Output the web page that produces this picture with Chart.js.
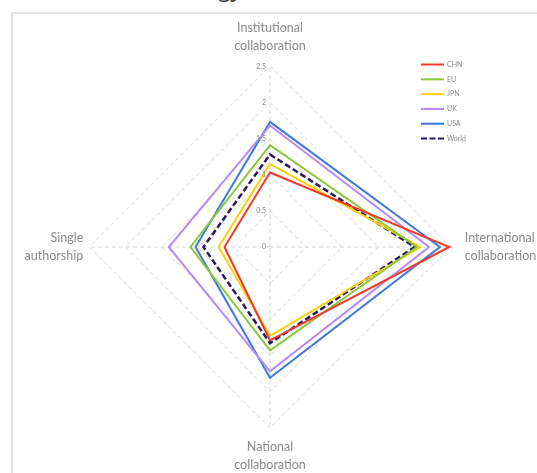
<!DOCTYPE html>
<html>
<head>
<meta charset="utf-8">
<script src="https://cdn.jsdelivr.net/npm/chart.js@4/dist/chart.umd.min.js"></script>
<style>
  html, body { margin: 0; padding: 0; background: #fff; }
  body { width: 537px; height: 473px; overflow: hidden; position: relative; }
  #frame { position: absolute; left: 11px; top: 12px; right: -4px; bottom: -4px;
           border-left: 2px solid #e6e6e6; border-top: 2px solid #e6e6e6; }
  #title { position: absolute; left: 0; width: 245px; top: -27px; text-align: right;
           font: italic 26px/26px "Open Sans", sans-serif; color: #444; white-space: nowrap; }
  #chart { position: absolute; left: -80px; top: 0; }
</style>
</head>
<body>
<div id="title">Energy</div>
<div id="frame"></div>
<canvas id="chart" width="700" height="475"></canvas>
<script>
// Axes of the collaboration profile (clockwise from the top)
const categories = [
  ['Institutional', 'collaboration'],
  ['International', 'collaboration'],
  ['National', 'collaboration'],
  ['Single', 'authorship']
];

// Series values per axis
const CHN   = [1.03, 2.48, 1.29, 0.63];
const EU    = [1.41, 2.03, 1.43, 1.10];
const JPN   = [1.15, 2.08, 1.23, 0.71];
const UK    = [1.68, 2.20, 1.72, 1.40];
const USA   = [1.73, 2.35, 1.81, 1.03];
const World = [1.28, 2.00, 1.33, 0.92];

// Radial tick labels
const tickValues = [0, 0.5, 1, 1.5, 2, 2.5];
const tickLabels = ['0', '0.5', '1', '1.5', '2', '2.5'];

const series = [
  { label: 'CHN',   data: CHN,   color: '#ee3a2c', dash: [] },
  { label: 'EU',    data: EU,    color: '#8cc83c', dash: [] },
  { label: 'JPN',   data: JPN,   color: '#fbd10a', dash: [] },
  { label: 'UK',    data: UK,    color: '#b48cf2', dash: [] },
  { label: 'USA',   data: USA,   color: '#3d7ad8', dash: [] },
  { label: 'World', data: World, color: '#2a1a5c', dash: [6, 3] }
];

const OFFSET_X = 80; // canvas sits 80px left of the page origin

// Tick labels placed just left of the vertical axis, plus the legend box
const extras = {
  id: 'extras',
  afterDraw(chart) {
    const ctx = chart.ctx;
    const r = chart.scales.r;
    ctx.save();
    ctx.font = '7px Lato, sans-serif';
    ctx.fillStyle = '#888';
    ctx.textAlign = 'right';
    ctx.textBaseline = 'middle';
    tickValues.forEach((v, i) => {
      const d = r.getDistanceFromCenterForValue(v);
      ctx.fillText(tickLabels[i], r.xCenter - 4, r.yCenter - d);
    });

    // legend
    const x0 = 421 + OFFSET_X, x1 = 444 + OFFSET_X, y0 = 64.5, step = 14.8;
    ctx.textAlign = 'left';
    chart.data.datasets.forEach((ds, i) => {
      const y = y0 + i * step;
      ctx.beginPath();
      ctx.strokeStyle = ds.borderColor;
      ctx.lineWidth = 2;
      ctx.setLineDash(ds.borderDash && ds.borderDash.length ? [6, 2.5] : []);
      ctx.moveTo(x0, y);
      ctx.lineTo(x1, y);
      ctx.stroke();
      ctx.setLineDash([]);
      ctx.fillStyle = '#888';
      ctx.fillText(ds.label, x1 + 3, y);
    });
    ctx.restore();
  }
};

const labelPadding = [11, 14, 10, 6];

new Chart(document.getElementById('chart'), {
  type: 'radar',
  data: {
    labels: categories,
    datasets: series.map(s => ({
      label: s.label,
      data: s.data,
      borderColor: s.color,
      backgroundColor: 'transparent',
      borderWidth: s.dash.length ? 2.5 : 2,
      borderDash: s.dash,
      fill: false,
      pointRadius: 0,
      pointHoverRadius: 0,
      tension: 0
    }))
  },
  options: {
    responsive: false,
    animation: false,
    devicePixelRatio: 1,
    layout: { padding: { top: 19, bottom: 0, left: 0, right: 0 } },
    plugins: { legend: { display: false }, title: { display: false }, tooltip: { enabled: false } },
    elements: { line: { borderJoinStyle: 'miter' } },
    scales: {
      r: {
        min: 0,
        max: 2.5,
        ticks: { stepSize: 0.5, display: false },
        grid: { color: '#d6d6d6', lineWidth: 1 },
        border: { dash: [4, 3] },
        angleLines: { color: '#d6d6d6', lineWidth: 1, borderDash: [4, 3] },
        pointLabels: {
          color: '#8a8a8a',
          font: { family: 'Lato', size: 12.5, lineHeight: 1.45 },
          padding: ctx => labelPadding[ctx.index]
        }
      }
    }
  },
  plugins: [extras]
});
</script>
</body>
</html>
